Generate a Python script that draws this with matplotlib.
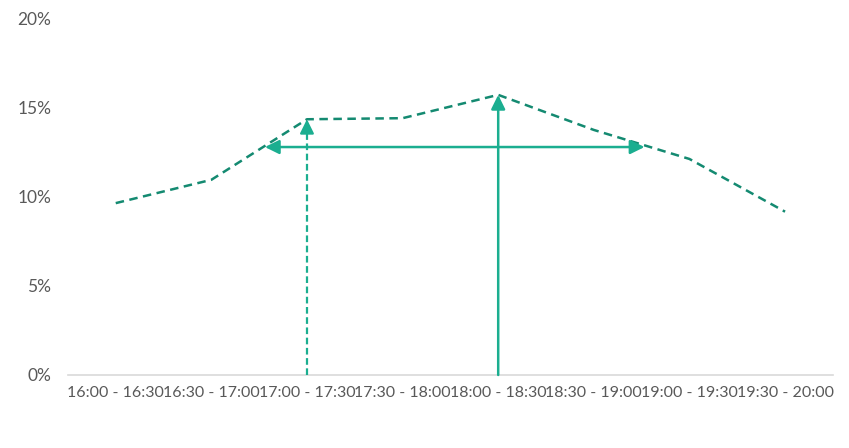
import matplotlib
matplotlib.use("Agg")
import matplotlib.pyplot as plt
from matplotlib.ticker import FuncFormatter

plt.rcParams['font.family'] = ['Lato', 'DejaVu Sans']

categories = ["16:00 - 16:30", "16:30 - 17:00", "17:00 - 17:30", "17:30 - 18:00",
              "18:00 - 18:30", "18:30 - 19:00", "19:00 - 19:30", "19:30 - 20:00"]
share = [9.65, 10.96, 14.36, 14.42, 15.73, 13.76, 12.13, 9.17]

# reference markers
peak_idx = 4
onset_idx = 2
span_level = 12.8
span_start = 1.56
span_end = 5.53

line_color = "#148A71"
arrow_color = "#1BAE90"
text_color = "#595959"

fig = plt.figure(figsize=(8.49, 4.48), dpi=100)
ax = fig.add_axes([0.080, 0.163, 0.901, 0.795])

x = list(range(len(categories)))
ax.plot(x, share, color=line_color, lw=1.8, dashes=(3.4, 2.2),
        dash_capstyle="butt", zorder=3)

head = "head_length=0.85,head_width=0.42"

# horizontal span arrow
ax.annotate("", xy=(span_end, span_level), xytext=(span_start, span_level),
            arrowprops=dict(arrowstyle="<|-|>," + head,
                            color=arrow_color, lw=1.8, shrinkA=0, shrinkB=0), zorder=4)

# vertical arrow to the peak
ax.annotate("", xy=(peak_idx, share[peak_idx]), xytext=(peak_idx, 0),
            arrowprops=dict(arrowstyle="-|>," + head,
                            color=arrow_color, lw=1.8, shrinkA=0, shrinkB=0), zorder=4)

# dashed vertical arrow to the onset point
top = share[onset_idx]
ax.plot([onset_idx, onset_idx], [0, top - 0.6], color=arrow_color, lw=1.6,
        dashes=(3.0, 1.6), zorder=4)
ax.annotate("", xy=(onset_idx, top), xytext=(onset_idx, top - 0.8),
            arrowprops=dict(arrowstyle="-|>," + head,
                            color=arrow_color, lw=1.6, shrinkA=0, shrinkB=0), zorder=4)

ax.set_xlim(-0.5, len(categories) - 0.5)
ax.set_ylim(0, 20)
ax.set_yticks([0, 5, 10, 15, 20])
ax.yaxis.set_major_formatter(FuncFormatter(lambda v, p: f"{v:.0f}%"))
ax.set_xticks(x)
ax.set_xticklabels(categories)

for s in ["top", "right", "left"]:
    ax.spines[s].set_visible(False)
ax.spines["bottom"].set_color("#D9D9D9")
ax.spines["bottom"].set_linewidth(1.2)

ax.tick_params(axis="both", length=0, colors=text_color)
ax.tick_params(axis="x", labelsize=11.5, pad=8)
ax.tick_params(axis="y", labelsize=12.5, pad=12)

fig.savefig("out.png", dpi=100)
